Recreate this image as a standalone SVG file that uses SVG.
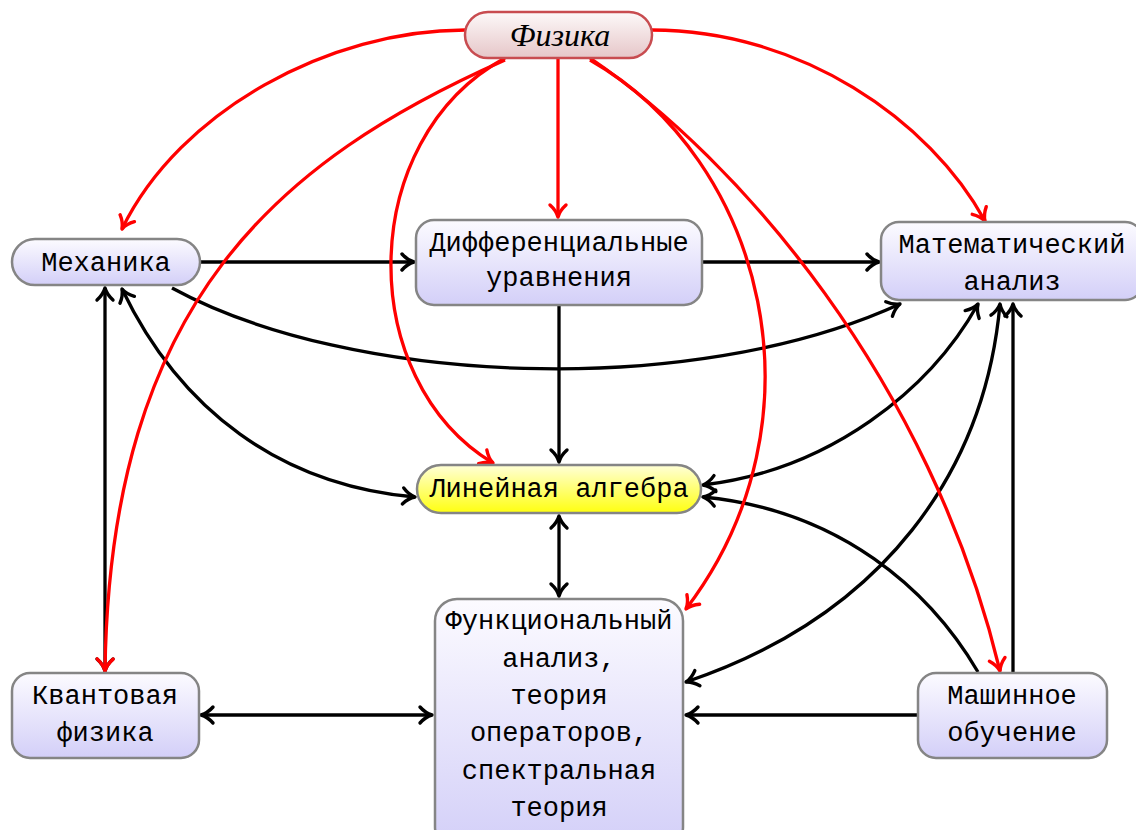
<svg xmlns="http://www.w3.org/2000/svg" width="1136" height="830" viewBox="0 0 1136 830">
<defs>
<linearGradient id="gl" x1="0" y1="0" x2="0" y2="1"><stop offset="0" stop-color="#fcfbff"/><stop offset="1" stop-color="#d3cff8"/></linearGradient>
<linearGradient id="gy" x1="0" y1="0" x2="0" y2="1"><stop offset="0" stop-color="#ffffd8"/><stop offset="1" stop-color="#ffff10"/></linearGradient>
<linearGradient id="gp" x1="0" y1="0" x2="0" y2="1"><stop offset="0" stop-color="#fdf9f9"/><stop offset="1" stop-color="#e6c6c8"/></linearGradient>
<marker id="ab" markerUnits="userSpaceOnUse" viewBox="-15 -10 17 20" markerWidth="17" markerHeight="20" refX="0" refY="0" orient="auto-start-reverse" overflow="visible"><path d="M-12,-8 C-8,-3.5 -2.5,-0.7 0,0 C-2.5,0.7 -8,3.5 -12,8" fill="none" stroke="#000" stroke-width="3.4" stroke-linecap="round" stroke-linejoin="round"/></marker>
<marker id="ar" markerUnits="userSpaceOnUse" viewBox="-15 -10 17 20" markerWidth="17" markerHeight="20" refX="0" refY="0" orient="auto-start-reverse" overflow="visible"><path d="M-12,-8 C-8,-3.5 -2.5,-0.7 0,0 C-2.5,0.7 -8,3.5 -12,8" fill="none" stroke="#ff0000" stroke-width="3.4" stroke-linecap="round" stroke-linejoin="round"/></marker>
<style>
.n{fill:url(#gl);stroke:#858585;stroke-width:2.5}
.t{font-family:"Liberation Mono","DejaVu Sans Mono",monospace;font-size:27px;fill:#000;text-anchor:middle}
.b{fill:none;stroke:#000;stroke-width:3.3}
.r{fill:none;stroke:#ff0000;stroke-width:3.3}
</style>
</defs>
<g id="connectors">
<path class="b" d="M200,262 L414,262" marker-end="url(#ab)"/>
<path class="b" d="M703,262 L879,262" marker-end="url(#ab)"/>
<path class="b" d="M172,288 C350,385 690,400 900,304" marker-end="url(#ab)"/>
<path class="b" d="M559,306 L559,462" marker-end="url(#ab)"/>
<path class="b" d="M122,289 C180,410 280,485 415,497" marker-start="url(#ab)" marker-end="url(#ab)"/>
<path class="b" d="M105,288 L105,671" marker-start="url(#ab)" marker-end="url(#ab)"/>
<path class="b" d="M559,516 L559,596" marker-start="url(#ab)" marker-end="url(#ab)"/>
<path class="b" d="M201,715 L432,715" marker-start="url(#ab)" marker-end="url(#ab)"/>
<path class="b" d="M917,715 L686,715" marker-end="url(#ab)"/>
<path class="b" d="M1013,672 L1013,304" marker-end="url(#ab)"/>
<path class="b" d="M978,672 C930,590 840,510 703,497" marker-end="url(#ab)"/>
<path class="b" d="M978,304 C930,390 830,470 703,485" marker-start="url(#ab)" marker-end="url(#ab)"/>
<path class="b" d="M1000,304 C985,470 885,615 686,682" marker-start="url(#ab)" marker-end="url(#ab)"/>
<path class="r" d="M465,30 C330,30 180,110 122,229" marker-end="url(#ar)"/>
<path class="r" d="M652,30 C800,30 930,120 985,221" marker-end="url(#ar)"/>
<path class="r" d="M558,59 L558,217" marker-end="url(#ar)"/>
<path class="r" d="M505,58 C355,140 355,380 493,463" marker-end="url(#ar)"/>
<path class="r" d="M505,60 C280,160 110,300 105,671" marker-end="url(#ar)"/>
<path class="r" d="M590,60 C765,160 830,420 686,609" marker-end="url(#ar)"/>
<path class="r" d="M590,58 C740,160 930,380 1000,671" marker-end="url(#ar)"/>
</g>
<g id="fizika">
<rect x="465" y="12" width="187" height="46" rx="23" fill="url(#gp)" stroke="#c84c50" stroke-width="2.5"/>
<text x="560" y="46" text-anchor="middle" font-family="'Liberation Serif','DejaVu Serif',serif" font-style="italic" font-size="32">Физика</text>
</g>
<g id="mehanika">
<rect class="n" x="12" y="239" width="188" height="46" rx="23"/>
<text class="t" x="106" y="271">Механика</text>
</g>
<g id="diffur">
<rect class="n" x="416" y="220" width="286" height="85" rx="18"/>
<text class="t" x="559" y="251">Дифференциальные</text>
<text class="t" x="559" y="286">уравнения</text>
</g>
<g id="matan">
<rect class="n" x="881" y="222" width="262" height="78" rx="18"/>
<text class="t" x="1012" y="253">Математический</text>
<text class="t" x="1012" y="290">анализ</text>
</g>
<g id="linal">
<rect x="417" y="465" width="284" height="48" rx="24" fill="url(#gy)" stroke="#858585" stroke-width="2.5"/>
<text class="t" x="559" y="497">Линейная алгебра</text>
</g>
<g id="funan">
<rect class="n" x="435" y="599" width="248" height="250" rx="22"/>
<text class="t" x="559" y="629">Функциональный</text>
<text class="t" x="559" y="667">анализ,</text>
<text class="t" x="559" y="704">теория</text>
<text class="t" x="559" y="741">операторов,</text>
<text class="t" x="559" y="779">спектральная</text>
<text class="t" x="559" y="816">теория</text>
</g>
<g id="kvant">
<rect class="n" x="12" y="673" width="187" height="85" rx="18"/>
<text class="t" x="105" y="704">Квантовая</text>
<text class="t" x="105" y="741">физика</text>
</g>
<g id="ml">
<rect class="n" x="918" y="673" width="189" height="85" rx="18"/>
<text class="t" x="1012" y="704">Машинное</text>
<text class="t" x="1012" y="741">обучение</text>
</g>
</svg>
